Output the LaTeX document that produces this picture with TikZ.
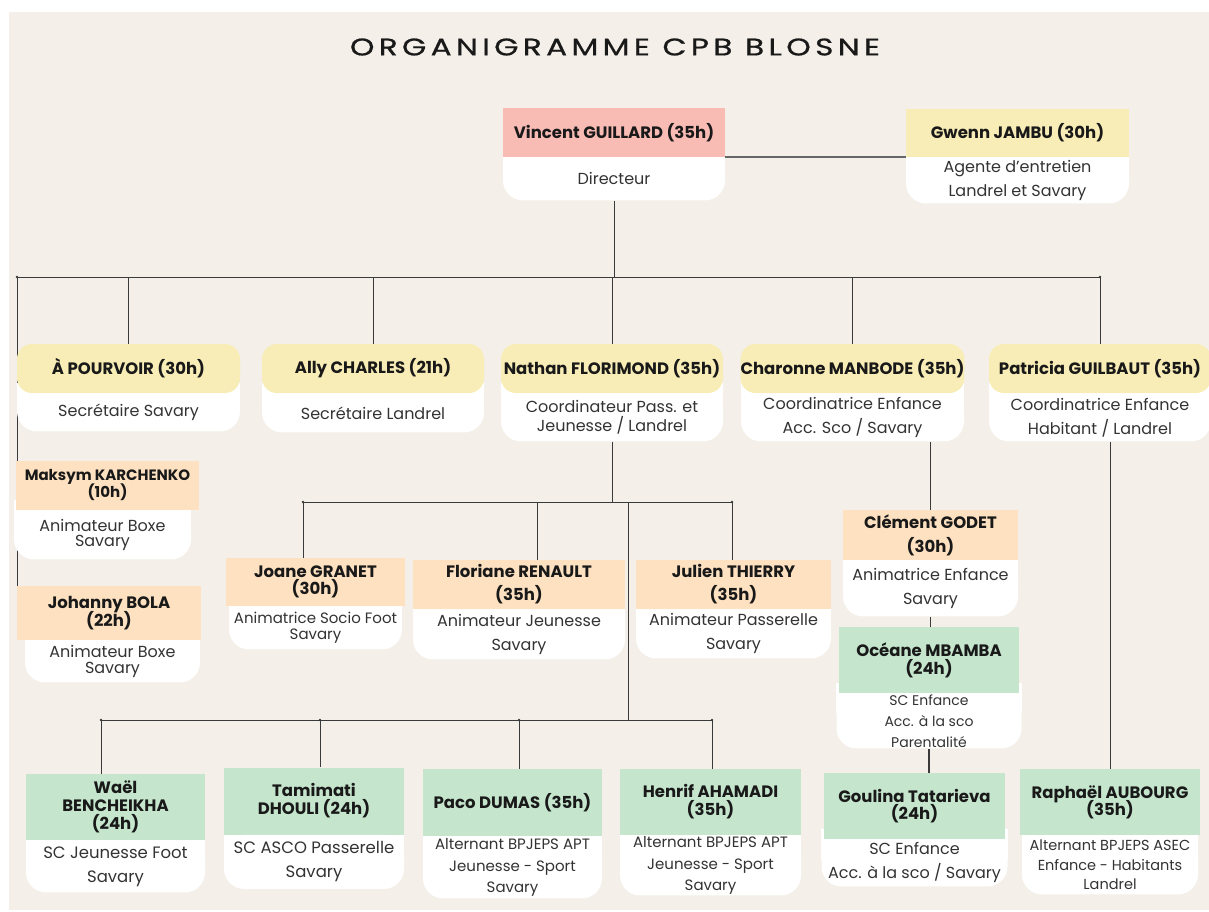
\documentclass[tikz,border=0pt]{standalone}
\usepackage{fontspec}
\setmainfont{Poppins}
\newfontfamily\titlefont[LetterSpace=18, FakeStretch=1.3, FakeBold=0.8]{Poppins}
\usetikzlibrary{positioning,backgrounds}
\lineskiplimit=-100pt
\definecolor{beige}{HTML}{F4EFE9}
\definecolor{pink_hd}{HTML}{F9BCB5}
\definecolor{yellow_hd}{HTML}{F8EDB6}
\definecolor{peach_hd}{HTML}{FDE1C0}
\definecolor{green_hd}{HTML}{C5E6CD}
\definecolor{line_gray}{HTML}{3A3A3A}
\tikzset{
        % Name boxes
        hd/.style={align=center, inner sep=0pt, text=black!90, font=\bfseries\fontsize{16.5}{20}\selectfont},
        hd_pink/.style={hd, fill=pink_hd},
        hd_yellow/.style={hd, fill=yellow_hd},
        hd_pill/.style={hd, fill=yellow_hd, rounded corners=15pt},
        hd_peach/.style={hd, fill=peach_hd},
        hd_green/.style={hd, fill=green_hd},
        % Role boxes under the names
        role/.style={align=center, inner sep=0pt, anchor=north, fill=white, rounded corners=20pt, text=black!80, font=\fontsize{16}{24}\selectfont},
        sz/.style 2 args={minimum width=#1pt, minimum height=#2pt},
        hdfs/.style 2 args={font=\bfseries\fontsize{#1}{#2}\selectfont},
        rfs/.style 2 args={font=\fontsize{#1}{#2}\selectfont},
        % Connectors
        link/.style={draw=line_gray, line width=0.9pt}
}
\begin{document}
\begin{tikzpicture}[x=1pt, y=-1pt]
    \useasboundingbox (0,0) rectangle (1209,911);
    \node[font=\titlefont\fontsize{24}{28}\selectfont, text=black!90] (title) at (615,47) {ORGANIGRAMME CPB BLOSNE};

    % Direction
    \node[hd_pink, sz={222}{49}] (vincent) at (614,132.5) {Vincent GUILLARD (35h)};
    \node[role, sz={222}{43}] (vincentR) at (vincent.south) {Directeur};
    \node[hd_yellow, sz={223}{48}] (gwenn) at (1017.5,133) {Gwenn JAMBU (30h)};
    \node[role, sz={223}{46}] (gwennR) at (gwenn.south) {Agente d’entretien\\Landrel et Savary};

    % Second row
    \node[hd_pill, sz={223}{49}] (pourvoir) at (128.5,368.5) {À POURVOIR (30h)};
    \node[role, sz={223}{38}] (pourvoirR) at (pourvoir.south) {Secrétaire Savary};
    \node[hd_pill, sz={222}{49}] (ally) at (373,368.5) {Ally CHARLES (21h)};
    \node[role, sz={222}{39}] (allyR) at (ally.south) {Secrétaire Landrel};
    \node[hd_pill, sz={222}{49}] (nathan) at (612,368.5) {Nathan FLORIMOND (35h)};
    \node[role, sz={222}{48}, rfs={16}{19}] (nathanR) at (nathan.south) {Coordinateur Pass. et\\Jeunesse / Landrel};
    \node[hd_pill, sz={223}{49}] (charonne) at (852.5,368.5) {Charonne MANBODE (35h)};
    \node[role, sz={223}{48}] (charonneR) at (charonne.south) {Coordinatrice Enfance\\Acc. Sco / Savary};
    \node[hd_pill, sz={222}{49}] (patricia) at (1100,368.5) {Patricia GUILBAUT (35h)};
    \node[role, sz={222}{48}] (patriciaR) at (patricia.south) {Coordinatrice Enfance\\Habitant / Landrel};

    % Left column
    \node[hd_peach, sz={183}{49}, hdfs={15}{17}] (maksym) at (107.5,485.5) {Maksym KARCHENKO\\(10h)};
    \node[role, sz={177}{49}, rfs={16}{15.5}] (maksymR) at ([xshift=-5pt]maksym.south) {Animateur Boxe\\Savary};
    \node[hd_peach, sz={184}{54}, hdfs={16.5}{18}] (johanny) at (109,613) {Johanny BOLA\\(22h)};
    \node[role, sz={175}{42}, rfs={16}{16}] (johannyR) at ([xshift=3.5pt]johanny.south) {Animateur Boxe\\Savary};

    % Jeunesse / Landrel
    \node[hd_peach, sz={179}{48}, hdfs={16.5}{17}] (joane) at (315.5,582) {Joane GRANET\\(30h)};
    \node[role, sz={173}{43}, rfs={15}{16}] (joaneR) at (joane.south) {Animatrice Socio Foot\\Savary};
    \node[hd_peach, sz={212}{49}, hdfs={16.5}{23}] (floriane) at (519,584.5) {Floriane RENAULT\\(35h)};
    \node[role, sz={212}{50}] (florianeR) at (floriane.south) {Animateur Jeunesse\\Savary};
    \node[hd_peach, sz={195}{49}, hdfs={16.5}{23}] (julien) at (733.5,584.5) {Julien THIERRY\\(35h)};
    \node[role, sz={195}{49}] (julienR) at (julien.south) {Animateur Passerelle\\Savary};

    % Enfance / Savary
    \node[hd_peach, sz={175}{50}, hdfs={16.5}{24}] (clement) at (930.5,535) {Clément GODET\\(30h)};
    \node[role, sz={175}{56}] (clementR) at (clement.south) {Animatrice Enfance\\Savary};
    \node[hd_green, sz={180}{66}, hdfs={16.5}{18}] (oceane) at (929,660) {Océane MBAMBA\\(24h)};
    \node[role, sz={185}{55}, rfs={14}{21}] (oceaneR) at (oceane.south) {SC Enfance\\Acc. à la sco\\Parentalité};
    \node[hd_green, sz={181}{66}, hdfs={16.5}{17}] (goulina) at (914.5,806) {Goulina Tatarieva\\(24h)};
    \node[role, sz={186}{47}] (goulinaR) at (goulina.south) {SC Enfance\\Acc. à la sco / Savary};

    % Habitant / Landrel
    \node[hd_green, sz={180}{66}, hdfs={16.5}{17}] (raphael) at (1110,802) {Raphaël AUBOURG\\(35h)};
    \node[role, sz={176}{59}, rfs={14.5}{19.5}] (raphaelR) at (raphael.south) {Alternant BPJEPS ASEC\\Enfance - Habitants\\Landrel};

    % Bottom row
    \node[hd_green, sz={179}{66}, hdfs={16.5}{18}] (wael) at (115.5,807) {Waël\\BENCHEIKHA\\(24h)};
    \node[role, sz={179}{52}, rfs={16.5}{24}] (waelR) at (wael.south) {SC Jeunesse Foot\\Savary};
    \node[hd_green, sz={180}{67}, hdfs={16.5}{18}] (tamimati) at (314,801) {Tamimati\\DHOULI (24h)};
    \node[role, sz={180}{54}, rfs={16.5}{24}] (tamimatiR) at (tamimati.south) {SC ASCO Passerelle\\Savary};
    \node[hd_green, sz={179}{67}] (paco) at (512.5,802.5) {Paco DUMAS (35h)};
    \node[role, sz={179}{62}, rfs={15}{21.5}] (pacoR) at (paco.south) {Alternant BPJEPS APT\\Jeunesse - Sport\\Savary};
    \node[hd_green, sz={181}{66}, hdfs={16.5}{18}] (henrif) at (710.5,802) {Henrif AHAMADI\\(35h)};
    \node[role, sz={181}{60}, rfs={15}{21.5}] (henrifR) at (henrif.south) {Alternant BPJEPS APT\\Jeunesse - Sport\\Savary};

    % Buses
    \coordinate (busL) at (17,277);
    \coordinate (busR) at (1100,277);
    \coordinate (leftEnd) at (17,640);
    \coordinate (jeuL) at (303,502);
    \coordinate (jeuF) at (537,502);
    \coordinate (jeuM) at (628,502);
    \coordinate (jeuR) at (732,502);
    \coordinate (altL) at (101,720);
    \coordinate (altT) at (320,720);
    \coordinate (altP) at (519,720);
    \coordinate (altM) at (628,720);
    \coordinate (altR) at (712,720);

    \draw[link, line width=1.6pt, draw=black!60] (vincent.south east) -- (gwenn.south west);
    \draw[link] (vincentR.south) -- (vincentR.south |- busL);
    \draw[link] (busL) -- (busR);
    \foreach \n in {pourvoir, ally, nathan, charonne, patricia}
        \draw[link] (\n.north) -- (\n.north |- busL);

    \draw[link] (nathanR.south) -- (nathanR.south |- jeuL);
    \draw[link] (jeuL) -- (jeuR);
    \draw[link] (jeuL) -- (jeuL |- joane.north);
    \draw[link] (jeuF) -- (jeuF |- floriane.north);
    \draw[link] (jeuR) -- (jeuR |- julien.north);
    \draw[link] (jeuM) -- (altM);
    \draw[link] (altL) -- (altR);
    \draw[link] (altL) -- (altL |- wael.north);
    \draw[link] (altT) -- (altT |- tamimati.north);
    \draw[link] (altP) -- (altP |- paco.north);
    \draw[link] (altR) -- (altR |- henrif.north);

    \draw[link, line width=1.4pt] (clement.north) -- (clement.north |- charonneR.south);
    \draw[link] (clementR.south) -- (clementR.south |- oceane.north);
    \draw[link, line width=1.4pt] (oceaneR.south) -- (oceaneR.south |- goulina.north);
    \draw[link] (raphael.north) -- (raphael.north |- patriciaR.south);

    \foreach \c in {busL, busR, jeuL, jeuR, altL, altR, altT, altP}
        \fill[line_gray] (\c) circle (1.4pt);

    \begin{scope}[on background layer]
        \fill[beige] (9,12) rectangle (1209,910);
        \draw[link] (busL) -- (leftEnd);
        \foreach \n in {vincentR, gwennR, pourvoirR, allyR, nathanR, charonneR, patriciaR, maksymR, johannyR, joaneR, florianeR, julienR, clementR, oceaneR, goulinaR, raphaelR, waelR, tamimatiR, pacoR, henrifR}
            \fill[white] ([yshift=10pt]\n.north west) rectangle ([yshift=-20pt]\n.north east);
    \end{scope}
\end{tikzpicture}
\end{document}
